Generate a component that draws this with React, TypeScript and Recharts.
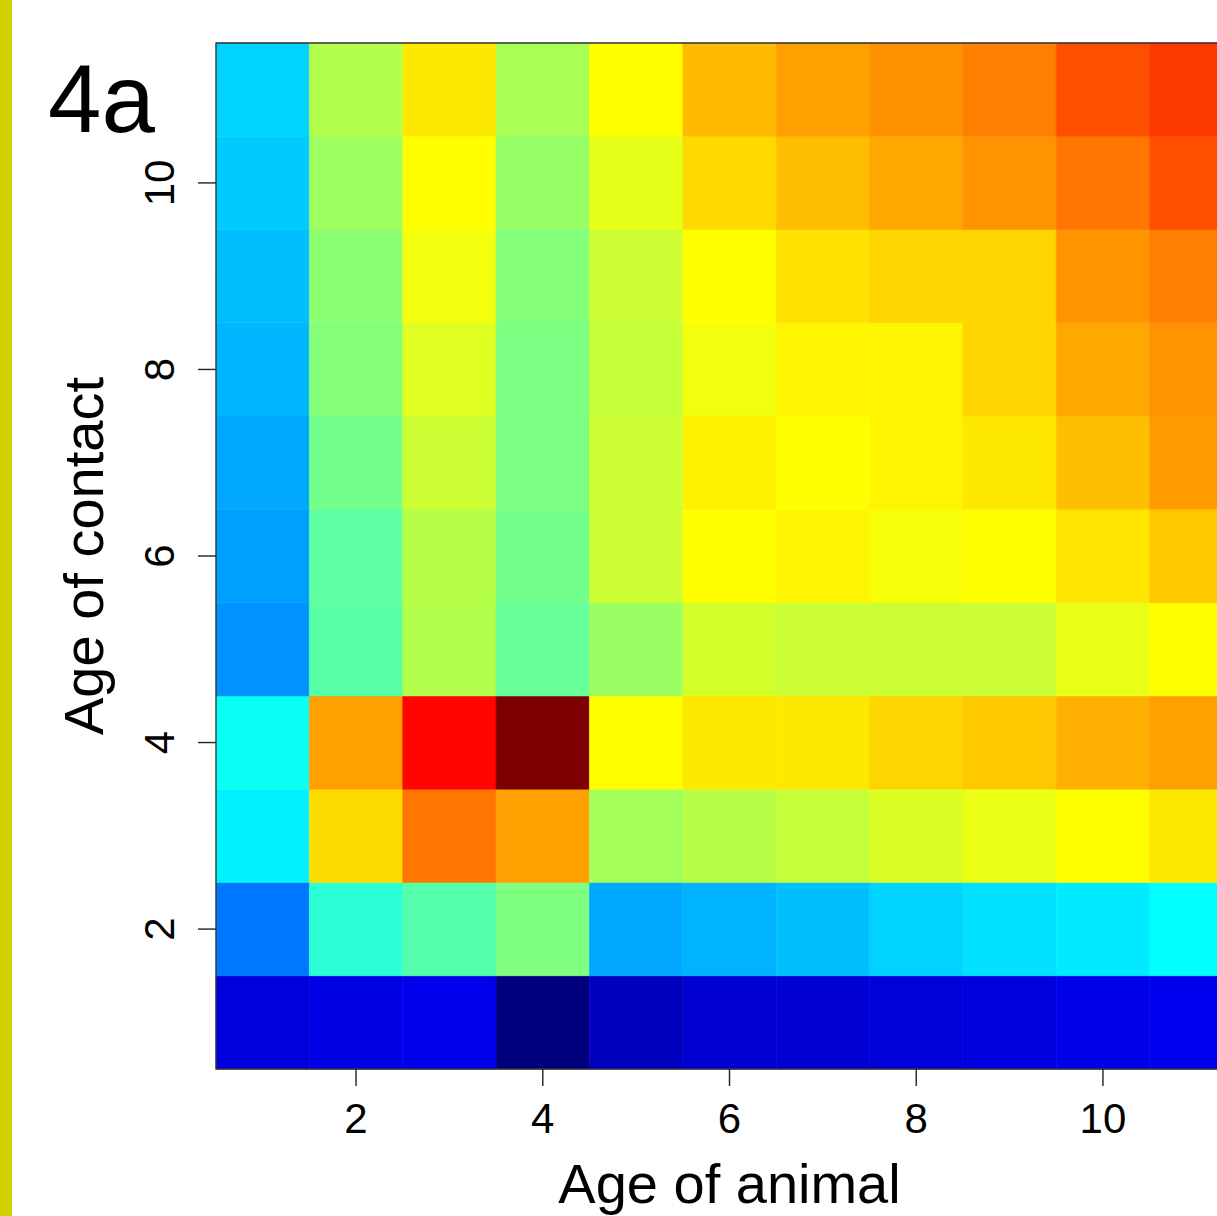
import { ScatterChart, Scatter, XAxis, YAxis, ReferenceArea, Label } from 'recharts'

const animalAges = [1, 2, 3, 4, 5, 6, 7, 8, 9, 10, 11]
const contactAges = [1, 2, 3, 4, 5, 6, 7, 8, 9, 10, 11]
const axisTicks = [2, 4, 6, 8, 10]

// intensity by age of contact (one row each), values across age of animal 1..11
const contact1 = [0.73, 0.8, 0.85, 0.0, 0.5, 0.65, 0.66, 0.7, 0.75, 0.82, 0.88]
const contact2 = [1.94, 3.33, 3.66, 4.0, 2.33, 2.41, 2.5, 2.66, 2.76, 2.84, 3.0]
const contact3 = [2.9, 5.27, 6.06, 5.74, 4.3, 4.44, 4.54, 4.72, 4.84, 5.0, 5.18]
const contact4 = [3.08, 5.74, 6.97, 8.0, 5.0, 5.18, 5.18, 5.33, 5.43, 5.62, 5.74]
const contact5 = [2.16, 3.7, 4.4, 3.8, 4.22, 4.66, 4.6, 4.6, 4.6, 4.82, 5.0]
const contact6 = [2.26, 3.73, 4.44, 3.9, 4.6, 5.0, 5.08, 4.94, 5.0, 5.2, 5.43]
const contact7 = [2.33, 3.9, 4.6, 3.98, 4.6, 5.1, 5.0, 5.08, 5.18, 5.5, 5.77]
const contact8 = [2.43, 4.05, 4.74, 3.98, 4.54, 4.9, 5.08, 5.08, 5.33, 5.68, 5.84]
const contact9 = [2.5, 4.1, 4.9, 4.04, 4.6, 5.0, 5.24, 5.33, 5.33, 5.84, 6.0]
const contact10 = [2.59, 4.24, 5.0, 4.18, 4.8, 5.3, 5.5, 5.68, 5.84, 6.07, 6.37]
const contact11 = [2.66, 4.4, 5.18, 4.33, 5.0, 5.53, 5.74, 5.85, 6.0, 6.37, 6.54]

const rows = [contact1, contact2, contact3, contact4, contact5, contact6, contact7, contact8, contact9, contact10, contact11]

const jetStops = ['#00007F', '#0000FF', '#007FFF', '#00FFFF', '#7FFF7F', '#FFFF00', '#FF7F00', '#FF0000', '#7F0000']

function hex(c: string) {
  return [1, 3, 5].map(i => parseInt(c.slice(i, i + 2), 16))
}

function jet(v: number, min: number, max: number) {
  const t = Math.max(0, Math.min(1, (v - min) / (max - min))) * (jetStops.length - 1)
  const i = Math.min(Math.floor(t), jetStops.length - 2)
  const f = t - i
  const a = hex(jetStops[i])
  const b = hex(jetStops[i + 1])
  const rgb = a.map((c, k) => Math.round(c + (b[k] - c) * f))
  return `rgb(${rgb.join(',')})`
}

const allValues = rows.flat()
const vMin = Math.min(...allValues)
const vMax = Math.max(...allValues)

const cells = contactAges.flatMap((c, i) =>
  animalAges.map((a, j) => ({ x: a, y: c, v: rows[i][j] }))
)

const font = '"Liberation Sans", Arial, Helvetica, sans-serif'

const YTick = (props: any) => {
  const { x, y, payload } = props
  return (
    <text x={x} y={y} transform={`rotate(-90, ${x}, ${y})`} textAnchor="middle" fontSize={42} fill="#000" fontFamily={font}>
      {payload.value}
    </text>
  )
}

export default function App() {
  return (
    <div style={{ position: 'absolute', left: 0, top: 0, width: 1217, height: 1216, overflow: 'hidden', background: '#fff' }}>
      <div style={{ position: 'absolute', left: 0, top: 0, width: 12, height: 1216, background: '#D4D000' }} />
      <div style={{ position: 'absolute', left: 0, top: 0 }}>
        <ScatterChart width={1300} height={1216} margin={{ top: 43, right: 57, bottom: 0, left: 0 }} style={{ fontFamily: font }}>
          <XAxis
            type="number"
            dataKey="x"
            domain={[0.5, 11.5]}
            ticks={axisTicks}
            allowDataOverflow
            height={147}
            axisLine={false}
            tickSize={17}
            tickMargin={17}
            tickLine={{ stroke: '#222', strokeWidth: 1.4 }}
            tick={{ fontSize: 42, fill: '#000', fontFamily: font }}
          >
            <Label
              content={(p: any) => {
                const vb = p.viewBox
                return (
                  <text x={vb.x + vb.width / 2} y={vb.y + 134} textAnchor="middle" fontSize={56} fill="#000" fontFamily={font}>
                    Age of animal
                  </text>
                )
              }}
            />
          </XAxis>
          <YAxis
            type="number"
            dataKey="y"
            domain={[0.5, 11.5]}
            ticks={axisTicks}
            allowDataOverflow
            width={216}
            axisLine={false}
            tickSize={18}
            tickMargin={24}
            tickLine={{ stroke: '#222', strokeWidth: 1.4 }}
            tick={<YTick />}
          >
            <Label
              content={(p: any) => {
                const vb = p.viewBox
                const cx = vb.x + 103
                const cy = vb.y + vb.height / 2
                return (
                  <text x={cx} y={cy} transform={`rotate(-90, ${cx}, ${cy})`} textAnchor="middle" fontSize={56} fill="#000" fontFamily={font}>
                    Age of contact
                  </text>
                )
              }}
            />
          </YAxis>
          {cells.map(c => {
            const col = jet(c.v, vMin, vMax)
            return (
              <ReferenceArea
                key={`${c.x}-${c.y}`}
                x1={c.x - 0.5}
                x2={c.x + 0.5}
                y1={c.y - 0.5}
                y2={c.y + 0.5}
                fill={col}
                fillOpacity={1}
                stroke={col}
                strokeWidth={0.6}
                ifOverflow="visible"
              />
            )
          })}
          <ReferenceArea x1={0.5} x2={11.5} y1={0.5} y2={11.5} fill="none" fillOpacity={0} stroke="#333" strokeWidth={1.3} ifOverflow="visible" />
          <Scatter data={cells} isAnimationActive={false} shape={() => <g />} />
        </ScatterChart>
      </div>
      <svg style={{ position: 'absolute', left: 0, top: 0 }} width={300} height={160}>
        <text x={48} y={132} fontSize={96} fill="#000" fontFamily={font}>4a</text>
      </svg>
    </div>
  )
}
